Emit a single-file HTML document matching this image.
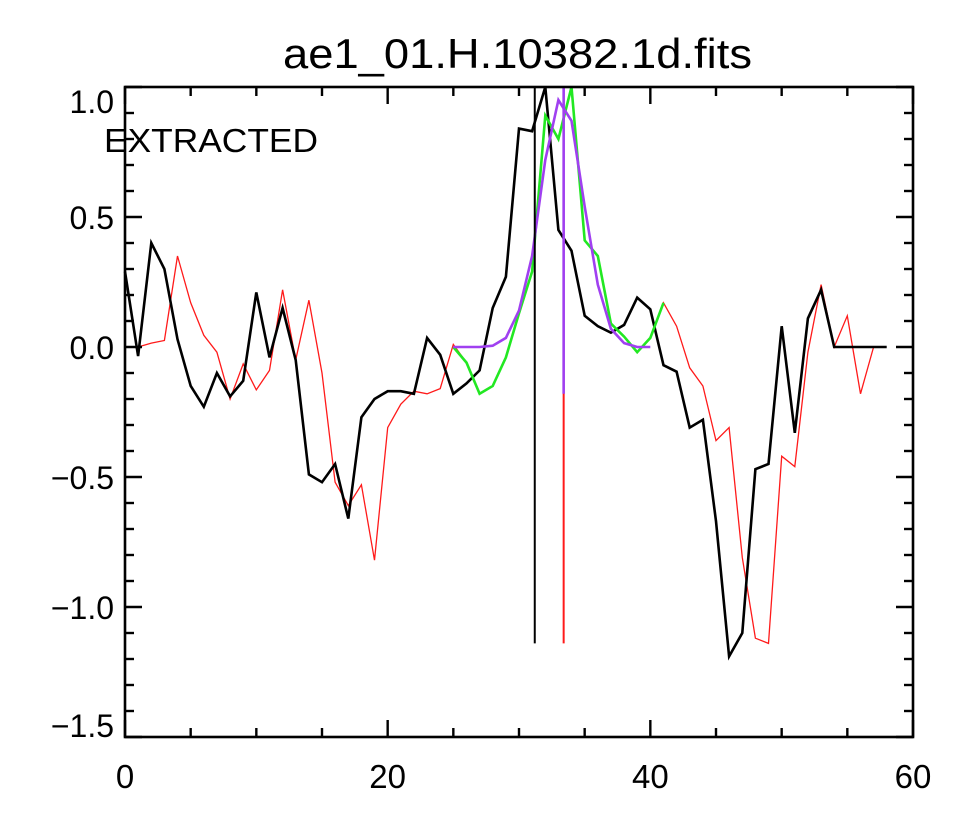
<!DOCTYPE html>
<html><head><meta charset="utf-8"><style>
html,body{margin:0;padding:0;background:#fff;}
svg{display:block;font-family:"Liberation Sans",sans-serif;}
</style></head><body>
<svg id="chart" width="965" height="817" xmlns="http://www.w3.org/2000/svg">
<text x="283" y="68" font-size="42" textLength="469" lengthAdjust="spacingAndGlyphs">ae1_01.H.10382.1d.fits</text>
<text x="104" y="152" font-size="33" textLength="214" lengthAdjust="spacingAndGlyphs">EXTRACTED</text>
<g id="plot"></g>
</svg>
<script>
const blackVals=[0.29,-0.035,0.40,0.30,0.03,-0.15,-0.23,-0.10,-0.19,-0.13,0.21,-0.04,0.15,-0.05,-0.49,-0.52,-0.45,-0.66,-0.27,-0.20,-0.17,-0.17,-0.18,0.035,-0.03,-0.18,-0.14,-0.09,0.15,0.27,0.84,0.83,1.0,0.45,0.37,0.12,0.08,0.055,0.085,0.19,0.145,-0.07,-0.095,-0.31,-0.28,-0.67,-1.19,-1.10,-0.47,-0.45,0.08,-0.33,0.11,0.22,0,0,0,0,0];
const redVals=[0,0,0.015,0.025,0.35,0.17,0.045,-0.02,-0.20,-0.065,-0.165,-0.09,0.22,-0.05,0.18,-0.10,-0.52,-0.61,-0.53,-0.82,-0.31,-0.22,-0.17,-0.18,-0.16,0.01,-0.06,-0.18,-0.15,-0.04,0.13,0.29,0.89,0.80,1.0,0.41,0.35,0.09,0.04,-0.02,0.035,0.17,0.08,-0.08,-0.15,-0.36,-0.31,-0.81,-1.12,-1.14,-0.42,-0.46,-0.02,0.24,0,0.12,-0.18,0];
const greenStart=25;
const greenVals=[0,-0.06,-0.18,-0.15,-0.04,0.13,0.29,0.89,0.80,1.0,0.41,0.35,0.09,0.04,-0.02,0.035,0.17];
const purpleStart=25;
const purpleVals=[0,0,0,0.005,0.035,0.14,0.35,0.72,0.95,0.87,0.54,0.24,0.07,0.015,0,0];
const vlineBlack=[31.2,1.0,-1.14];
const vlineRed=[33.4,1.0,-1.14];
const vlinePurple=[33.4,1.0,-0.18];
const xTicks=[0,20,40,60];
const yTicks=[-1.5,-1.0,-0.5,0.0,0.5,1.0];

const L=125,R=913,T=87,B=737;
const xMin=0,xMax=60,yMin=-1.5,yMax=1.0;
const sx=v=>L+(v-xMin)/(xMax-xMin)*(R-L);
const sy=v=>B-(v-yMin)/(yMax-yMin)*(B-T);
const NS="http://www.w3.org/2000/svg";
const g=document.getElementById('plot');
function mk(tag,attrs){const e=document.createElementNS(NS,tag);for(const k in attrs)e.setAttribute(k,attrs[k]);g.appendChild(e);return e;}

function series(vals,start,color,w,name){
  const pts=vals.map((v,i)=>sx(start+i).toFixed(1)+','+sy(v).toFixed(1)).join(' ');
  const p=mk('polyline',{points:pts,fill:'none',stroke:color,'stroke-width':w,'stroke-linejoin':'miter'});
  
  
}
function vline(a,color,w,name){
  const l=mk('line',{x1:sx(a[0]),x2:sx(a[0]),y1:sy(a[1]),y2:sy(a[2]),stroke:color,'stroke-width':w});
  
  
}
series(redVals,0,'#ff1a1a',1.3,'red-series');
series(blackVals,0,'#000',2.6,'black-series');
series(greenVals,greenStart,'#22e822',2.6,'green-series');
series(purpleVals,purpleStart,'#a040f0',2.6,'purple-series');
vline(vlineBlack,'#000',2,'black-marker-line');
vline(vlineRed,'#ff1a1a',2,'red-marker-line');
vline(vlinePurple,'#a040f0',2.6,'purple-marker-line');

const box=mk('rect',{x:L,y:T,width:R-L,height:B-T,fill:'none',stroke:'#000','stroke-width':2.6});


for(let v=0;v<=60;v+=5){
  const major=v%20===0, len=major?17:9, x=sx(v);
  const t1=mk('line',{x1:x,x2:x,y1:B,y2:B-len,stroke:'#000','stroke-width':2.4});
  
  
  const t2=mk('line',{x1:x,x2:x,y1:T,y2:T+len,stroke:'#000','stroke-width':2.4});
  
  
}
xTicks.forEach(v=>{
  const t=mk('text',{x:sx(v),y:788,'font-size':33,'text-anchor':'middle'});
  t.textContent=String(v);
  
  
});
for(let i=0;i<=25;i++){
  const v=yMin+i*0.1, major=i%5===0, len=major?17:9, y=sy(v);
  const t1=mk('line',{x1:L,x2:L+len,y1:y,y2:y,stroke:'#000','stroke-width':2.4});
  
  
  const t2=mk('line',{x1:R,x2:R-len,y1:y,y2:y,stroke:'#000','stroke-width':2.4});
  
  
}
yTicks.forEach(v=>{
  let by=sy(v)+12;
  by=Math.max(T+26,Math.min(B,by));
  const t=mk('text',{x:114,y:by,'font-size':32,'text-anchor':'end'});
  t.textContent=(v<0?'\u2212':'')+Math.abs(v).toFixed(1);
  
  
});
</script>
</body></html>
